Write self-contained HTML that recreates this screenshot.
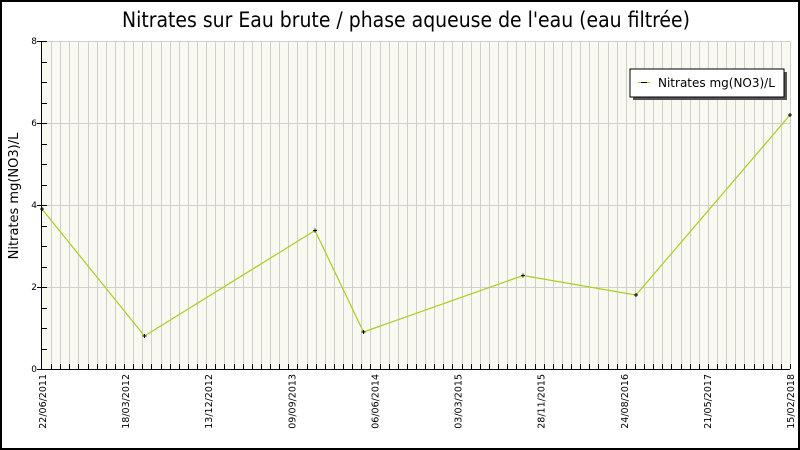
<!DOCTYPE html>
<html><head><meta charset="utf-8"><style>
html,body{margin:0;padding:0;background:#fff}
svg{display:block}
</style></head><body>
<svg width="800" height="450" xmlns="http://www.w3.org/2000/svg" font-family="DejaVu Sans, Liberation Sans, sans-serif">
<rect x="1" y="1" width="798" height="448" fill="#fff" stroke="#000" stroke-width="2"/>
<text x="406" y="27" font-size="21" text-anchor="middle" textLength="568" lengthAdjust="spacingAndGlyphs">Nitrates sur Eau brute / phase aqueuse de l'eau (eau filtrée)</text>
<rect x="42" y="41" width="748" height="328" fill="#f9f9f1"/>
<g stroke="#cfcfcf" stroke-width="1" id="vg"></g>
<g stroke="#cfcfcf" stroke-width="1">
<line x1="42" y1="41.5" x2="790" y2="41.5"/>
<line x1="42" y1="123.5" x2="790" y2="123.5"/>
<line x1="42" y1="205.5" x2="790" y2="205.5"/>
<line x1="42" y1="287.5" x2="790" y2="287.5"/>
</g>
<g stroke="#000" stroke-width="1" id="ax">
<line x1="41.5" y1="41" x2="41.5" y2="369"/>
<line x1="41" y1="369.5" x2="790" y2="369.5"/>
</g>
<g font-size="9" fill="#000" text-anchor="end">
<text x="37" y="44">8</text><text x="37" y="126">6</text><text x="37" y="208">4</text><text x="37" y="290">2</text><text x="37" y="372">0</text>
</g>
<text transform="translate(18,196) rotate(-90)" font-size="13" text-anchor="middle">Nitrates mg(NO3)/L</text>
<g font-size="9.5" id="xl"></g>
<polyline fill="none" stroke="#a8cf1e" stroke-width="1.2" points="42,209 144.5,336 315,230.5 363.5,332 523,275.5 636,295 790,115"/>
<g stroke="#000" stroke-width="1" id="pts"></g>
<rect x="633" y="72" width="154" height="28" fill="#555"/>
<rect x="630" y="69" width="154" height="28" fill="#fff" stroke="#000"/>
<line x1="638" y1="82.5" x2="650" y2="82.5" stroke="#a8cf1e"/>
<line x1="641" y1="82.5" x2="647" y2="82.5" stroke="#000"/>
<text x="658" y="87" font-size="12">Nitrates mg(NO3)/L</text>
<script>
var ns="http://www.w3.org/2000/svg";
var vg=document.getElementById('vg'),ax=document.getElementById('ax');
var n=82,w=748/n;
for(var k=1;k<=n;k++){var x=Math.round(42+k*w)+0.5;var l=document.createElementNS(ns,'line');l.setAttribute('x1',x);l.setAttribute('x2',x);l.setAttribute('y1',41);l.setAttribute('y2',369);vg.appendChild(l);
var t=document.createElementNS(ns,'line');t.setAttribute('x1',x);t.setAttribute('x2',x);t.setAttribute('y1',364);t.setAttribute('y2',369);ax.appendChild(t);}
for(var v=0;v<=16;v++){var y=Math.round(369-v*20.5)+0.5;var t=document.createElementNS(ns,'line');t.setAttribute('x1',v%4==0?37:42);t.setAttribute('x2',47);t.setAttribute('y1',y);t.setAttribute('y2',y);ax.appendChild(t);}
var labs=["22/06/2011","18/03/2012","13/12/2012","09/09/2013","06/06/2014","03/03/2015","28/11/2015","24/08/2016","21/05/2017","15/02/2018"];
var xl=document.getElementById('xl');
labs.forEach(function(s,i){var x=42+i*(748/9)+4;var t=document.createElementNS(ns,'text');t.setAttribute('transform','translate('+x+',374) rotate(-90)');t.setAttribute('text-anchor','end');t.textContent=s;xl.appendChild(t);});
var P=[[42,209],[144.5,336],[315,230.5],[363.5,332],[523,275.5],[636,295],[790,115]];
var g=document.getElementById('pts');
P.forEach(function(p){var a=document.createElementNS(ns,'path');a.setAttribute('d','M'+(p[0]-2)+' '+p[1]+'h4M'+p[0]+' '+(p[1]-2)+'v4');g.appendChild(a);});
</script>
</svg>
</body></html>
